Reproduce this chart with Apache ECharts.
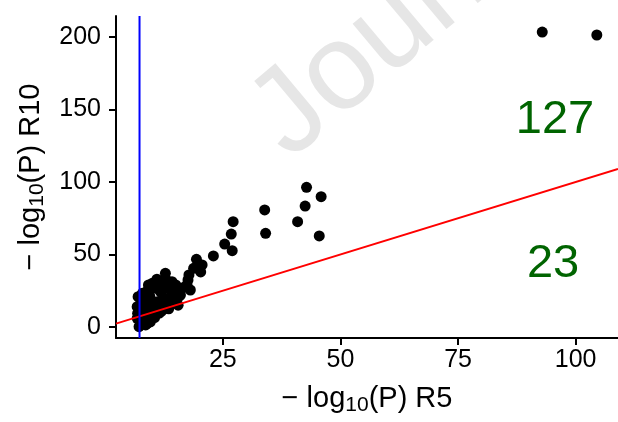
<!DOCTYPE html>
<html>
<head>
<meta charset="utf-8">
<script src="https://cdn.jsdelivr.net/npm/echarts@6/dist/echarts.min.js"></script>
<style>
html,body{margin:0;padding:0;background:#fff;}
#chart{width:618px;height:422px;}
</style>
</head>
<body>
<div id="chart"></div>
<script>
// -log10(P) in R5 (x) and R10 (y)
const r5Values = [92.9,104.5,42.8,45.9,42.5,40.9,45.5,33.9,34.1,27.2,26.8,25.4,27.0,23.0,19.4,20.6,
  20.3,18.8,17.8,17.4,18.1,17.6,16.5,15.6,15.0,15.0,15.0,13.5,12.1,12.8,12.8,14.2,13.2,11.8,12.2,10.0,11.0,10.7,9.2,9.0,9.5,7.9,7.0,8.2,6.8,7.4,6.8,7.2,8.6,9.3,9.6,10.2,8.9,8.5,9.3,8.7,10.0,11.1,12.5,13.9,11.0,12.0,13.0,14.5,16.0,7.6,6.9,7.5,10.5,11.5,13.5,15.5];
const r10Values = [203.4,201.4,96.3,89.9,83.4,72.6,62.8,80.7,64.6,72.6,64.1,57.2,52.6,49.0,46.7,42.8,
  38.0,40.5,35.9,29.0,25.5,32.4,27.0,20.9,17.4,29.0,24.3,15.2,14.0,37.0,33.6,31.2,26.7,24.0,29.0,30.1,33.0,26.7,29.0,25.0,21.0,23.2,20.9,18.6,14.0,11.0,6.0,0.2,1.4,6.0,3.5,8.0,2.5,10.0,11.7,14.0,16.3,17.4,19.8,20.9,12.0,11.0,13.0,18.0,22.0,17.0,9.4,4.0,6.5,9.5,12.5,15.0];
const xTicks = [25, 50, 75, 100];
const yTicks = [0, 50, 100, 150, 200];
const xRange = [2.3, 109];
const yRange = [-7.6, 214.5];
const thresholdLine = 7.3;
const countLabels = ['127', '23'];
const countX = [95.6, 95.2];
const countY = [142.6, 43.2];

const FONT = 'Liberation Sans';
const chart = echarts.init(document.getElementById('chart'));
const pts = r5Values.map((x, i) => [x, r10Values[i]]);

function richName(tail) {
  return '{a|− log}{s|10}{a|(P) ' + tail + '}';
}
const nameRich = {
  a: {fontFamily: FONT, fontSize: 29, color: '#000', lineHeight: 34},
  s: {fontFamily: FONT, fontSize: 21, color: '#000', lineHeight: 34, padding: [12, 0, 0, 0]}
};

chart.setOption({
  animation: false,
  backgroundColor: '#fff',
  graphic: [{
    type: 'text', z: -10,
    x: 307, y: 182, rotation: 40 * Math.PI / 180,
    style: {text: 'Journal Pre-proof', font: '122px "Liberation Sans"', fill: '#e6e6e6', textAlign: 'left', textVerticalAlign: 'bottom'}
  }],
  grid: {left: 116, right: 0, top: 16, bottom: 84, containLabel: false},
  xAxis: {
    type: 'value', min: xRange[0], max: xRange[1],
    name: richName('R5'), nameLocation: 'middle', nameGap: 44,
    nameTextStyle: {rich: nameRich},
    splitLine: {show: false},
    axisLine: {onZero: false, lineStyle: {color: '#000', width: 2}},
    axisTick: {length: 7, lineStyle: {color: '#000', width: 2}, customValues: xTicks},
    axisLabel: {customValues: xTicks, fontFamily: FONT, fontSize: 25, color: '#000', margin: 10}
  },
  yAxis: {
    type: 'value', min: yRange[0], max: yRange[1],
    name: richName('R10'), nameLocation: 'middle', nameGap: 68, nameRotate: 90,
    nameTextStyle: {rich: nameRich},
    splitLine: {show: false},
    axisLine: {onZero: false, lineStyle: {color: '#000', width: 2}},
    axisTick: {length: 7, lineStyle: {color: '#000', width: 2}, customValues: yTicks},
    axisLabel: {customValues: yTicks, fontFamily: FONT, fontSize: 25, color: '#000', margin: 15}
  },
  series: [
    {
      type: 'line', data: [[xRange[0], xRange[0]], [xRange[1], xRange[1]]],
      showSymbol: false, lineStyle: {color: '#ff0000', width: 2}, z: 3, silent: true
    },
    {
      type: 'line', data: [[thresholdLine, yRange[0]], [thresholdLine, yRange[1]]],
      showSymbol: false, lineStyle: {color: '#0000ff', width: 2}, z: 4, silent: true
    },
    {
      type: 'scatter', data: pts, symbolSize: 11,
      itemStyle: {color: '#000', opacity: 1}, z: 2
    },
    {
      type: 'scatter', data: countLabels.map((t, i) => [countX[i], countY[i], t]),
      symbolSize: 1, itemStyle: {color: 'rgba(0,0,0,0)', opacity: 1}, z: 5, silent: true,
      label: {show: true, position: 'inside', formatter: p => p.data[2],
        fontFamily: FONT, fontSize: 47, color: '#006400', opacity: 1}
    }
  ]
});
</script>
</body>
</html>
